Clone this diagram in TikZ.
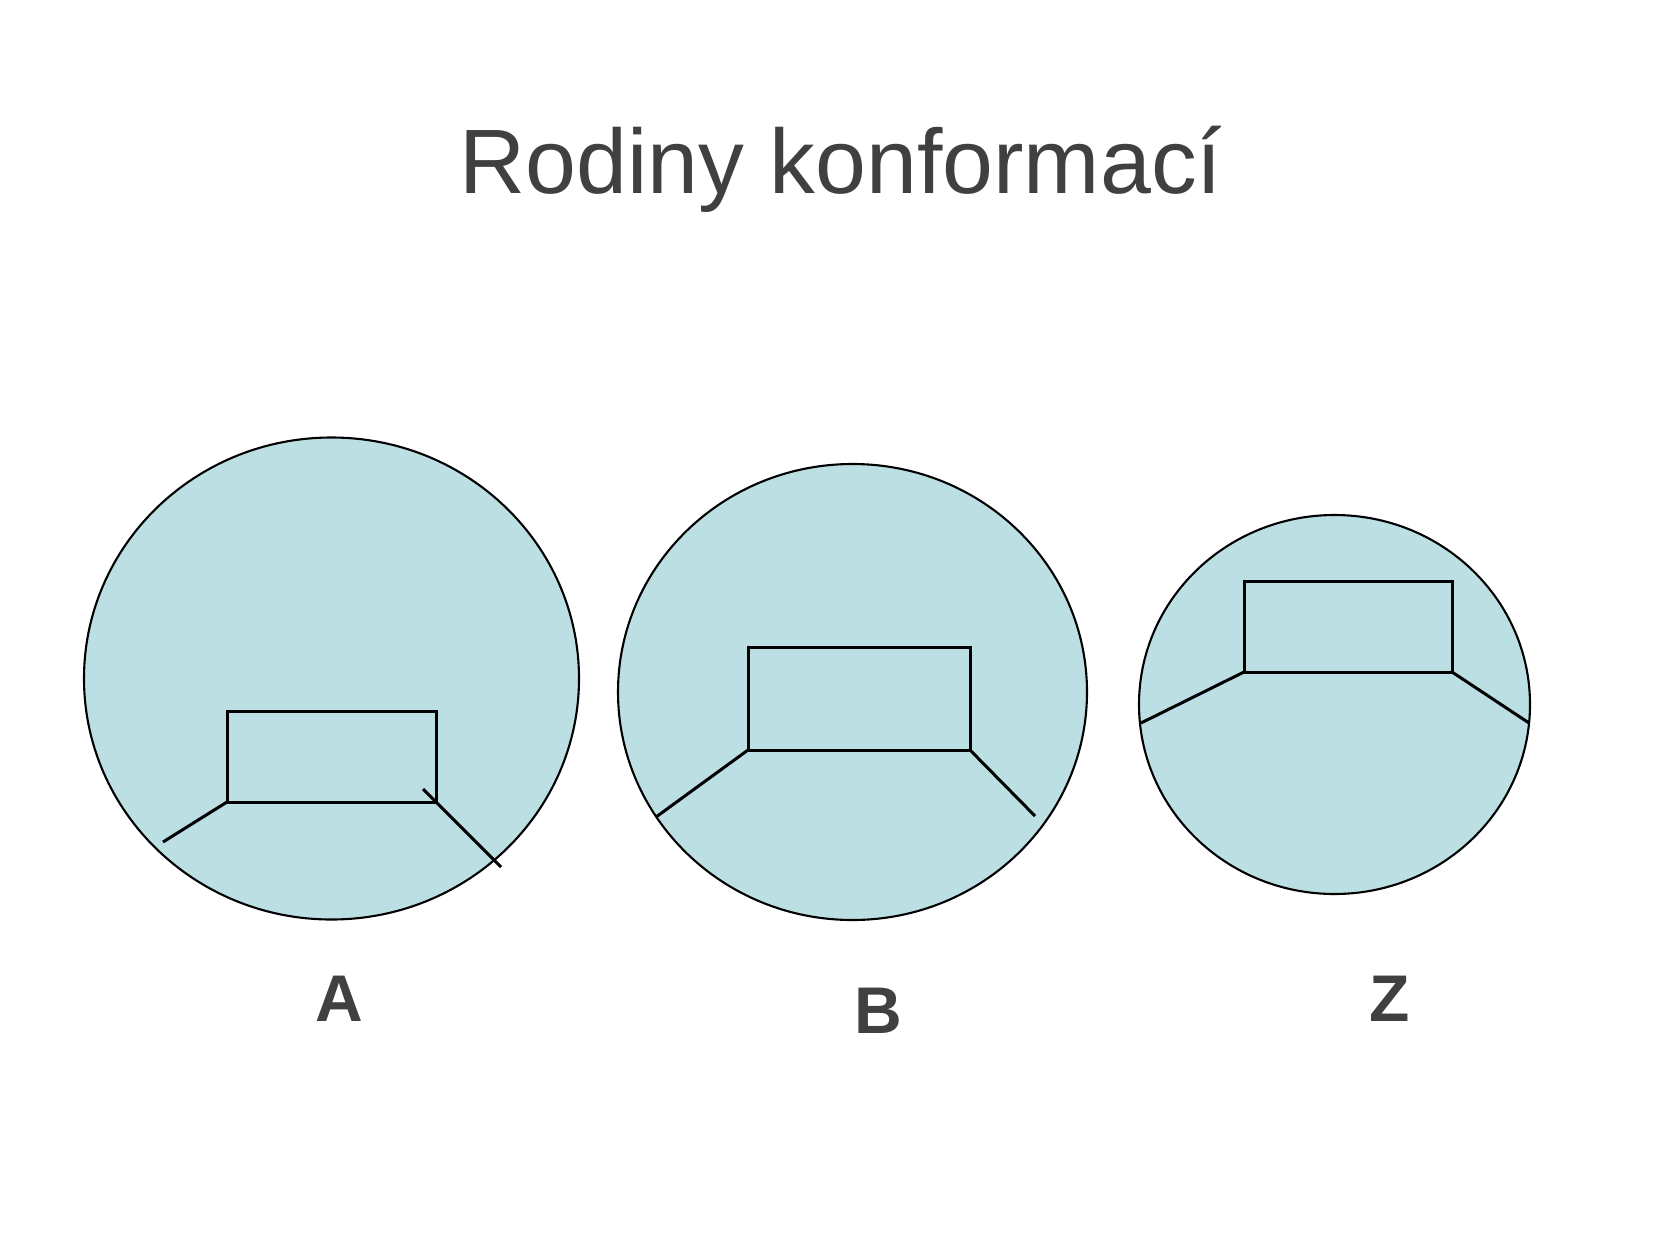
\documentclass[tikz,border=0pt]{standalone}
\usepackage{fontspec}
\setmainfont{Liberation Sans}
\usetikzlibrary{shapes.geometric}
\definecolor{fillblue}{HTML}{BBDFE2}
\definecolor{txtgray}{HTML}{404040}
\begin{document}
\begin{tikzpicture}[x=1pt,y=-1pt,
 blob/.style={ellipse, draw=black, line width=2.1pt, fill=fillblue, inner sep=0pt, outer sep=0pt},
 ring/.style={rectangle, draw=black, line width=3pt, inner sep=0pt, outer sep=0pt},
 bond/.style={draw=black, line width=3pt},
 lbl/.style={font=\fontsize{66}{70}\selectfont\bfseries, text=txtgray, anchor=base}]
\useasboundingbox (0,0) rectangle (1654,1240);
\fill[white] (0,0) rectangle (1654,1240);
\node[font=\fontsize{91.5}{100}\selectfont, text=txtgray, anchor=base, inner sep=0pt] (title) at (841,193) {Rodiny konformací};
% A
\node[blob, minimum width=495pt, minimum height=482pt] (ca) at (331.5,678.5) {};
\node[ring, minimum width=209pt, minimum height=91pt] (ra) at (331.5,756.5) {};
\coordinate (aL) at (163,842);
\coordinate (aRs) at (423,789);
\coordinate (aR) at (501,867);
\draw[bond] (ra.south west) -- (aL);
\draw[bond] (aRs) -- (aR);
% B
\node[blob, minimum width=469pt, minimum height=456pt] (cb) at (852.5,692) {};
\node[ring, minimum width=222pt, minimum height=103pt] (rb) at (859,698.5) {};
\coordinate (bL) at (656,817);
\coordinate (bR) at (1035,816);
\draw[bond] (rb.south west) -- (bL);
\draw[bond] (rb.south east) -- (bR);
% Z
\node[blob, minimum width=391pt, minimum height=379pt] (cz) at (1334.5,704.5) {};
\node[ring, minimum width=208pt, minimum height=91pt] (rz) at (1348,626.5) {};
\coordinate (zL) at (1141,723);
\coordinate (zR) at (1529,723);
\draw[bond] (rz.south west) -- (zL);
\draw[bond] (rz.south east) -- (zR);
% labels
\node[lbl] (la) at (339,1021) {A};
\node[lbl] (lb) at (878,1033) {B};
\node[lbl] (lz) at (1390,1021) {Z};
\end{tikzpicture}
\end{document}
